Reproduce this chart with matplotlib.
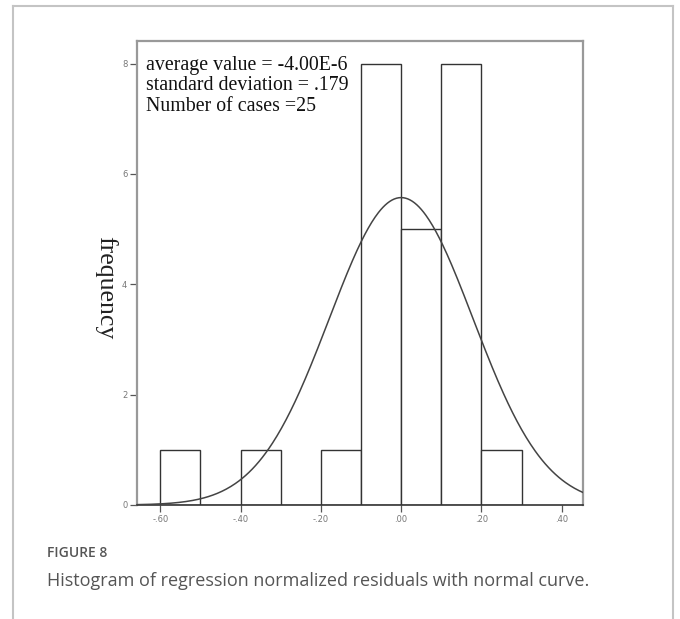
import numpy as np
import matplotlib
matplotlib.use("Agg")
import matplotlib.pyplot as plt
from matplotlib.lines import Line2D

# residual histogram (bin width 0.1) and summary statistics
bin_left = [-0.6, -0.5, -0.4, -0.3, -0.2, -0.1, 0.0, 0.1, 0.2]
counts = [1, 0, 1, 0, 1, 8, 5, 8, 1]
bin_width = 0.1
mean_val = -4.00e-6
std_val = 0.179
n_cases = 25

x_ticks = [-0.6, -0.4, -0.2, 0.0, 0.2, 0.4]
x_ticklabels = ["-.60", "-.40", "-.20", ".00", ".20", ".40"]
y_ticks = [0, 2, 4, 6, 8]

W, H = 680, 619
fig = plt.figure(figsize=(W / 100, H / 100), dpi=100)
fig.patch.set_facecolor("white")

# axes box in pixel coordinates
L, R, T, B = 137, 583, 41, 505
ax = fig.add_axes([L / W, 1 - B / H, (R - L) / W, (B - T) / H])

ax.bar(bin_left, counts, width=bin_width, align="edge",
       facecolor="white", edgecolor="#333333", linewidth=1.0, zorder=2)

# normal curve scaled to counts
xs = np.linspace(-0.66, 0.46, 400)
pdf = np.exp(-0.5 * ((xs - mean_val) / std_val) ** 2) / (std_val * np.sqrt(2 * np.pi))
ax.plot(xs, pdf * n_cases * bin_width, color="#444444", lw=1.1, zorder=3)

ax.set_xlim(-0.658, 0.453)
ax.set_ylim(0, 8.41)
ax.set_xticks(x_ticks)
ax.set_xticklabels(x_ticklabels)
ax.set_yticks(y_ticks)
ax.tick_params(axis="both", direction="out", length=5, width=0.9,
               color="#555555", labelsize=6, labelcolor="#777777", pad=2)

for side in ["left", "right", "top"]:
    ax.spines[side].set_color("#999999")
    ax.spines[side].set_linewidth(1.6)
ax.spines["bottom"].set_color("#333333")
ax.spines["bottom"].set_linewidth(1.2)

serif = ["Liberation Serif", "DejaVu Serif"]
stats_txt = (f"average value = {mean_val:.2E}".replace("E-06", "E-6") + "\n"
             f"standard deviation = {std_val:.3f}".replace("= 0.", "= .") + "\n"
             f"Number of cases ={n_cases}")
ax.text(0.02, 0.968, stats_txt, transform=ax.transAxes, ha="left", va="top",
        family=serif, fontsize=14.3, linespacing=1.1, color="#111111", zorder=4)

fig.text(106 / W, 1 - 288 / H, "frequency", rotation=270, ha="center",
         va="center", family=serif, fontsize=18.5, color="#222222")

# outer panel frame
frame_kw = dict(color="#c4c4c4", lw=1.5, transform=fig.transFigure)
fig.add_artist(Line2D([13 / W, 13 / W], [0, 1 - 6 / H], **frame_kw))
fig.add_artist(Line2D([13 / W, 673 / W], [1 - 6 / H, 1 - 6 / H], **frame_kw))
fig.add_artist(Line2D([673 / W, 673 / W], [0, 1 - 6 / H], **frame_kw))

sans = ["Open Sans", "DejaVu Sans"]
fig.text(47 / W, 1 - 553 / H, "FIGURE 8", ha="left", va="center",
         family=sans, fontsize=10, fontweight="semibold", color="#555555")
fig.text(47 / W, 1 - 581 / H,
         "Histogram of regression normalized residuals with normal curve.",
         ha="left", va="center", family=sans, fontsize=13, color="#555555")

fig.savefig("out.png", dpi=100)
